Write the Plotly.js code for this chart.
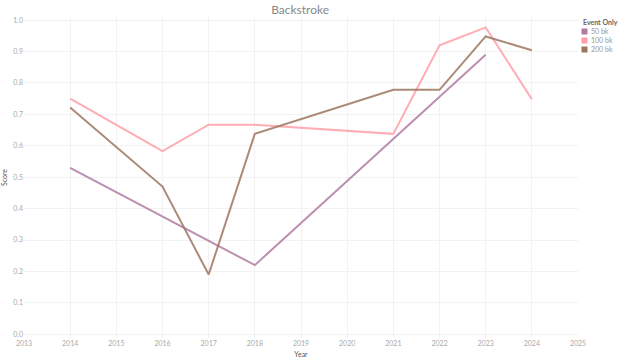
<!DOCTYPE html>
<html><head><meta charset="utf-8">
<script src="https://cdn.plot.ly/plotly-3.0.1.min.js"></script>
<style>html,body{margin:0;padding:0;background:#fff}#chart{width:640px;height:361px}</style>
</head><body><div id="chart"></div>
<script>
const seriesNames = ["50 bk", "100 bk", "200 bk"];
const colors = ["#b07aa1", "#ff9da7", "#9c755f"];
const years50 = [2014, 2018, 2023];
const score50 = [0.53, 0.22, 0.89];
const years100 = [2014, 2016, 2017, 2018, 2021, 2022, 2023, 2024];
const score100 = [0.75, 0.583, 0.667, 0.667, 0.638, 0.92, 0.977, 0.748];
const years200 = [2014, 2016, 2017, 2018, 2021, 2022, 2023, 2024];
const score200 = [0.722, 0.47, 0.19, 0.638, 0.778, 0.778, 0.948, 0.904];
const tickYears = [2013,2014,2015,2016,2017,2018,2019,2020,2021,2022,2023,2024,2025];

const M = {l: 24, r: 62, t: 17, b: 23};
const W = 640, H = 361;
const pw = W - M.l - M.r, ph = H - M.t - M.b;
const px = v => (v - M.l) / pw;
const py = v => (H - M.b - v) / ph;

const xs = [years50, years100, years200];
const ys = [score50, score100, score200];
const traces = [];
for (let i = 0; i < 3; i++) {
  traces.push({x: xs[i], y: ys[i], type: 'scatter', mode: 'lines', name: seriesNames[i],
    line: {color: colors[i], width: 2}, opacity: 0.85, showlegend: false, hoverinfo: 'skip'});
}
const font = 'Lato, "Open Sans", sans-serif';
const shapes = [], annotations = [];
annotations.push({xref: 'paper', yref: 'paper', x: px(581), y: py(22), xanchor: 'left', yanchor: 'middle',
  text: '<b>Event Only</b>', showarrow: false, font: {family: font, size: 7, color: '#666'}});
for (let i = 0; i < 3; i++) {
  const cy = 31.5 + i * 9;
  shapes.push({type: 'rect', xref: 'paper', yref: 'paper', x0: px(581.5), x1: px(587.5),
    y0: py(cy - 3), y1: py(cy + 3), fillcolor: colors[i], line: {width: 0}});
  annotations.push({xref: 'paper', yref: 'paper', x: px(589), y: py(cy), xanchor: 'left', yanchor: 'middle',
    text: seriesNames[i], showarrow: false, font: {family: font, size: 7, color: '#999'}});
}
const layout = {
  width: W, height: H,
  margin: M,
  paper_bgcolor: '#fff', plot_bgcolor: '#fff',
  font: {family: font, color: '#999', size: 7},
  title: {text: 'Backstroke', x: 0.469, xanchor: 'center', y: 0.972, yanchor: 'middle',
    font: {family: font, size: 12, color: '#888'}},
  xaxis: {range: [2013, 2025], tickvals: tickYears, ticktext: tickYears.map(String),
    showgrid: true, gridcolor: '#f2f2f2', gridwidth: 1, zeroline: false, showline: false,
    ticks: '', tickfont: {size: 7, color: '#aaa'},
    title: {text: 'Year', font: {size: 7, color: '#555'}, standoff: 6}},
  yaxis: {range: [-0.012, 1.01], tickvals: [0,0.1,0.2,0.3,0.4,0.5,0.6,0.7,0.8,0.9,1.0],
    ticktext: ['0.0','0.1','0.2','0.3','0.4','0.5','0.6','0.7','0.8','0.9','1.0'],
    showgrid: true, gridcolor: '#f2f2f2', zeroline: false, showline: false,
    ticks: '', tickfont: {size: 7, color: '#aaa'},
    title: {text: 'Score', font: {size: 7, color: '#555'}, standoff: 8}},
  shapes: shapes, annotations: annotations,
  showlegend: false
};
Plotly.newPlot('chart', traces, layout, {displayModeBar: false, staticPlot: true});
</script></body></html>
